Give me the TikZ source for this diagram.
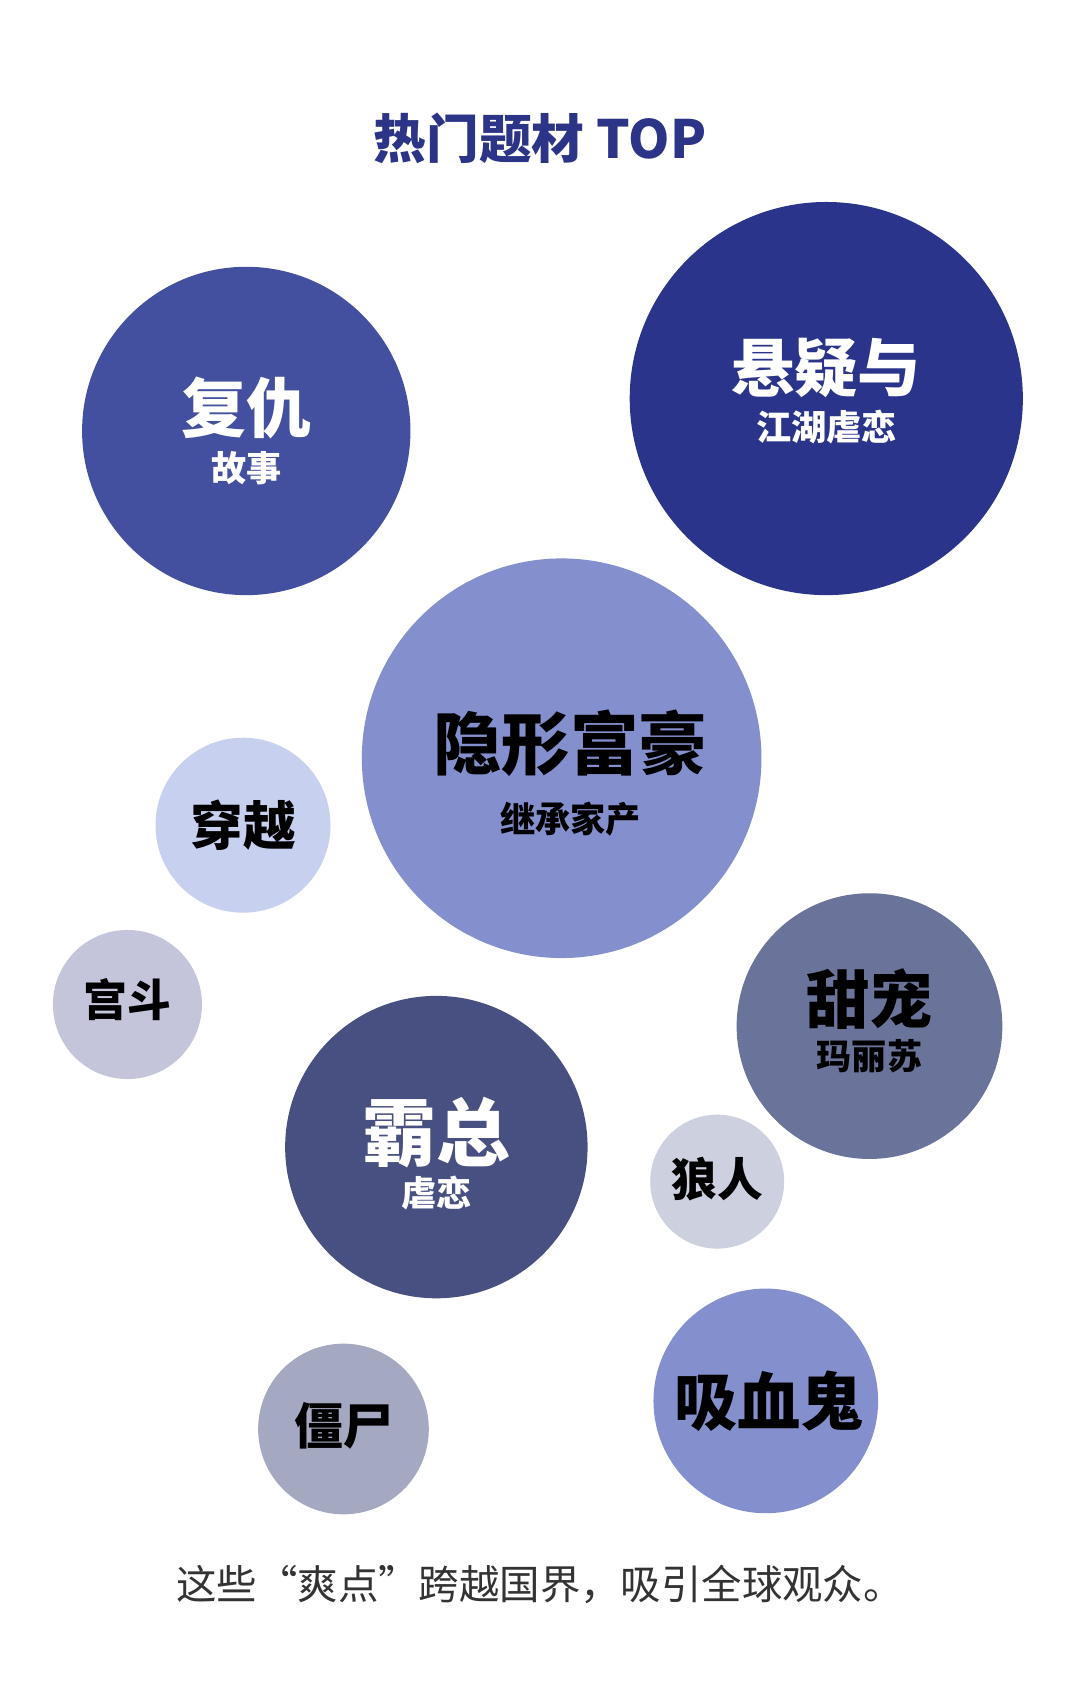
\documentclass[tikz,border=0pt]{standalone}
\usepackage{fontspec}
\newfontfamily\cjk{Noto Sans CJK SC}
\setmainfont{Noto Sans CJK SC}
\definecolor{cA}{HTML}{4350A0}
\definecolor{cB}{HTML}{2A348A}
\definecolor{cC}{HTML}{8490CE}
\definecolor{cD}{HTML}{C8D0F0}
\definecolor{cE}{HTML}{C4C5DA}
\definecolor{cF}{HTML}{6A7399}
\definecolor{cG}{HTML}{CDD0DE}
\definecolor{cH}{HTML}{485081}
\definecolor{cI}{HTML}{A4A8C0}
\definecolor{navy}{HTML}{2B3487}
\definecolor{txt}{HTML}{333333}
\newcommand{\fs}[1]{\fontsize{#1pt}{#1pt}\selectfont}
\tikzset{bub/.style={circle,inner sep=0pt,align=center,font=\cjk\bfseries}}
\begin{document}
\begin{tikzpicture}[x=0.0108cm,y=-0.0108cm]
\useasboundingbox[fill=white] (0,0) rectangle (1000,1573);
\node[text=navy,font=\cjk\bfseries\fs{15}] (title) at (500,128) {热门题材 TOP};
\fill[cA] (228,399) circle (152);
\node[bub,text=white] (a) at (228,399) {\fs{18.5}复仇\\[2pt]故事};
\fill[cB] (765,369) circle (182);
\node[bub,text=white] (b) at (765,362) {\fs{18}悬疑与\\[2pt]江湖虐恋};
\fill[cC] (520,702) circle (185);
\node[bub,text=black] (c) at (528,716) {\fs{19.5}隐形富豪\\[6pt]继承家产};
\fill[cD] (225,764) circle (81);
\node[bub,text=black] (d) at (225,764) {\fs{15}穿越};
\fill[cE] (118,930) circle (69);
\node[bub,text=black] (e) at (118,925) {\fs{12.5}宫斗};
\fill[cF] (805,950) circle (123);
\node[bub,text=black] (f) at (805,945) {\fs{18}甜宠\\[1pt]玛丽苏};
\fill[cG] (664,1094) circle (62);
\node[bub,text=black] (g) at (664,1092) {\fs{13}狼人};
\fill[cH] (404,1062) circle (140);
\node[bub,text=white] (h) at (404,1068) {\fs{21}霸总\\[1pt]虐恋};
\fill[cC] (709,1297) circle (104);
\node[bub,text=black] (i) at (712,1297) {\fs{18}吸血鬼};
\fill[cI] (318,1323) circle (79);
\node[bub,text=black] (j) at (318,1320) {\fs{14}僵尸};
\node[text=txt,font=\cjk\fs{11.5}] (cap) at (500,1467) {这些“爽点”跨越国界，吸引全球观众。};
\end{tikzpicture}
\end{document}
